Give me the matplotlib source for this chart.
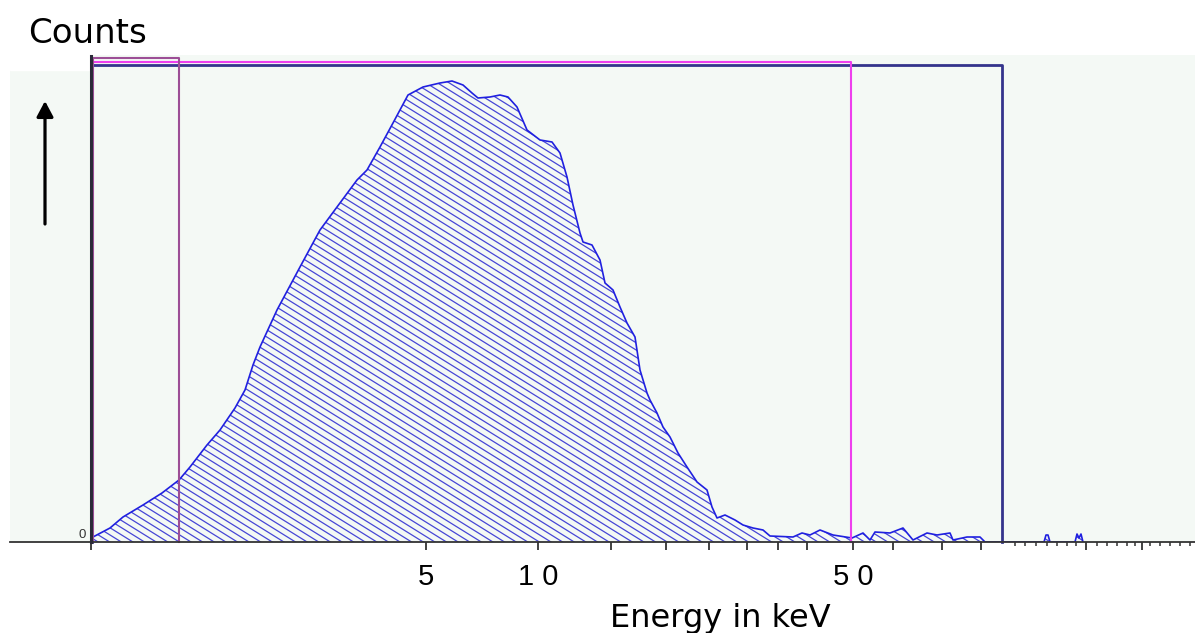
import numpy as np
import matplotlib
matplotlib.use('Agg')
import matplotlib.pyplot as plt
from matplotlib.collections import LineCollection

# spectrum (x = channel, y = counts, arbitrary units)
channel = [2, 19, 32, 52, 71, 88, 99, 116, 129, 144, 154, 162, 169, 186, 209, 229,
           246, 266, 276, 289, 302, 317, 332, 349, 361, 372, 381, 387, 399, 409, 417,
           426, 436, 449, 461, 469, 476, 482, 489, 492, 501, 509, 514, 522, 529, 536,
           544, 549, 556, 559, 566, 572, 579, 587, 596, 606, 616, 621, 626, 634, 644,
           652, 662, 672, 679, 702, 711, 719, 729, 742, 761, 772, 779, 784, 799, 812,
           822, 836, 846, 859, 862, 876, 889, 894, 953, 955, 957, 959, 984, 986, 988,
           990, 992]
counts = [5, 14, 25, 37, 49, 62, 75, 97, 112, 134, 152, 177, 195, 232, 275, 312,
          335, 362, 372, 395, 419, 447, 455, 459, 461, 457, 449, 444, 445, 447, 445,
          435, 412, 402, 400, 389, 365, 337, 309, 300, 297, 282, 259, 252, 235, 219,
          205, 172, 149, 142, 129, 115, 105, 89, 75, 60, 52, 35, 24, 27, 22, 17,
          14, 12, 6, 5, 9, 7, 12, 7, 4, 9, 2, 10, 9, 14, 2, 9, 7, 9, 2, 5, 5, 0,
          0, 7, 7, 0, 0, 8, 4, 8, 0]

# regions of interest (channel start, channel end, height)
roi_start = [1, 1, 2]
roi_end = [911, 760, 88]
roi_top = [477.5, 480, 484]
roi_colors = ['#34348c', '#ee3fee', '#9c4e96']

# energy axis labels at their channels
energy_ch = [335, 447, 762]
energy_labels = ['5', '1 0', '5 0']
plain_ticks = [0, 520, 575, 618, 656, 687, 716, 802, 851, 890, 995, 1051]
small_ticks = [924, 934, 945, 956, 966, 976, 985, 1006, 1016, 1026, 1036, 1044,
               1059, 1069, 1079, 1089, 1099]

fig = plt.figure(figsize=(11.95, 6.33), dpi=100)
ax = fig.add_axes([10 / 1195, 91 / 633, 1185 / 1195, 487 / 633])
ax.set_xlim(-81, 1104)
ax.set_ylim(0, 487)
ax.set_facecolor('#f4f9f5')
for s in ax.spines.values():
    s.set_visible(False)

# white notch at the top left
ax.add_patch(plt.Rectangle((-81, 472), 80, 16, color='white', zorder=1))

# hatched area under the spectrum
poly = ax.fill_between(channel, counts, color='none', lw=0)
clip = poly.get_paths()[0]
slope = 0.62
segs = []
for c in np.arange(-10, 487 + slope * 1104, 7.2):
    segs.append([(-81, c + slope * 81), (1104, c - slope * 1104)])
hatch = LineCollection(segs, colors='#4646d6', linewidths=0.9, zorder=2)
ax.add_collection(hatch)
hatch.set_clip_path(clip, transform=ax.transData)
ax.plot(channel, counts, color='#2020e0', lw=1.2, zorder=3)

# ROI frames
for x0, x1, top, col in zip(roi_start, roi_end, roi_top, roi_colors):
    lw = 2 if col == '#34348c' else 1.5
    ax.plot([x0, x0, x1, x1], [0, top, top, 0], color=col, lw=lw, zorder=4,
            clip_on=False)

# axes lines
ax.axhline(0, color='#333333', lw=1.3, zorder=5, clip_on=False)
ax.plot([0, 0], [0, 486], color='#2a2a38', lw=2.2, zorder=5, clip_on=False)
ax.text(-5, 1, '0', fontsize=9.5, family='Liberation Sans', color='#333333',
        ha='right', va='bottom')

ticks = energy_ch + plain_ticks
labels = energy_labels + [''] * len(plain_ticks)
ax.set_xticks(ticks, labels, family='Liberation Sans', fontsize=21)
ax.set_xticks(small_ticks, minor=True)
ax.tick_params(axis='x', which='major', direction='out', length=6, width=1.3,
               color='#333333', pad=9)
ax.tick_params(axis='x', which='minor', direction='out', length=3, width=1.1,
               color='#333333')
ax.set_yticks([])

fig.text(28 / 1195, 1 - 43 / 633, 'Counts', fontsize=24.5, ha='left', va='baseline')
fig.text(720 / 1195, 1 - 627 / 633, 'Energy in keV', fontsize=23, ha='center',
         va='baseline')

ax.annotate('', xy=(45, 633 - 101), xycoords='figure pixels',
            xytext=(45, 633 - 224), textcoords='figure pixels',
            arrowprops=dict(arrowstyle='-|>,head_width=0.25,head_length=0.47',
                            mutation_scale=20, lw=2.3, color='black',
                            shrinkA=0, shrinkB=0),
            annotation_clip=False)

fig.savefig('out.png', dpi=100)
